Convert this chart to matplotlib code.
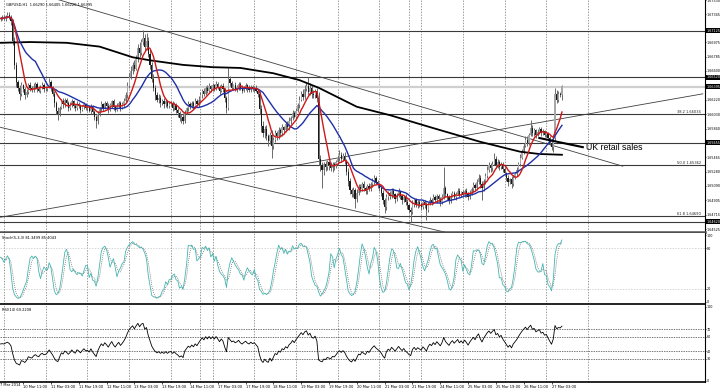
import matplotlib
matplotlib.use("Agg")
import matplotlib.pyplot as plt
import numpy as np
import pandas as pd

# GBPUSD H1, bars from 7 Mar 22:00 to 27 Mar 09:00 (2014)
# prices kept as pips: 6628 -> 1.6628
first_open = 6728
close_pips = [
    6729, 6730,  # 7 Mar
    6729, 6732, 6734, 6731, 6725, 6700, 6668, 6645, 6638, 6630, 6641, 6636, 6628, 6633, 6642, 6638, 6635, 6640, 6643, 6637, 6634, 6639, 6641, 6636,  # 10 Mar
    6637, 6640, 6645, 6638, 6630, 6618, 6608, 6604, 6612, 6620, 6616, 6622, 6618, 6612, 6615, 6620, 6614, 6611, 6617, 6614, 6609, 6613, 6616, 6611,  # 11 Mar
    6612, 6608, 6613, 6606, 6600, 6594, 6603, 6610, 6616, 6612, 6618, 6614, 6609, 6615, 6620, 6613, 6609, 6614, 6618, 6612, 6616, 6621, 6628, 6640,  # 12 Mar
    6652, 6660, 6668, 6663, 6676, 6690, 6684, 6698, 6703, 6692, 6700, 6682, 6668, 6650, 6638, 6628, 6622, 6625, 6618, 6621, 6616, 6620, 6614, 6617,  # 13 Mar
    6618, 6612, 6615, 6609, 6605, 6598, 6600, 6594, 6606, 6611, 6616, 6613, 6618, 6614, 6620, 6616, 6622, 6628, 6634, 6630, 6638, 6634, 6640, 6636,  # 14 Mar
    6641, 6637, 6643, 6639, 6634, 6640, 6636, 6624, 6612, 6650, 6644, 6638, 6641, 6636, 6639, 6643, 6637, 6634, 6638, 6641, 6637, 6635, 6639, 6636,  # 17 Mar
    6638, 6634, 6630, 6610, 6588, 6578, 6584, 6574, 6568, 6576, 6562, 6570, 6578, 6574, 6582, 6578, 6586, 6583, 6590, 6586, 6594, 6598, 6605, 6600,  # 18 Mar
    6608, 6615, 6622, 6630, 6626, 6636, 6640, 6632, 6638, 6630, 6628, 6634, 6624, 6545, 6536, 6530, 6538, 6534, 6540, 6536, 6532, 6538, 6535, 6540,  # 19 Mar
    6546, 6550, 6544, 6548, 6542, 6528, 6515, 6504, 6498, 6504, 6492, 6500, 6508, 6505, 6512, 6506, 6502, 6509, 6505, 6511, 6516, 6520, 6514, 6510,  # 20 Mar
    6506, 6500, 6490, 6482, 6494, 6500, 6496, 6503, 6498, 6492, 6497, 6502, 6496, 6491, 6495, 6488, 6484, 6478, 6475, 6486, 6490, 6484, 6488, 6485,  # 21 Mar
    6482, 6488, 6484, 6478, 6486, 6491, 6488, 6494, 6490, 6496, 6492, 6488, 6494, 6506, 6498, 6494, 6490, 6496, 6500, 6495, 6499, 6503, 6497, 6501,  # 24 Mar
    6497, 6503, 6499, 6494, 6500, 6505, 6510, 6506, 6514, 6520, 6512, 6506, 6515, 6522, 6530, 6536, 6532, 6538, 6545, 6536, 6540, 6534, 6538, 6531,  # 25 Mar
    6526, 6520, 6514, 6518, 6512, 6520, 6525, 6530, 6538, 6546, 6554, 6562, 6570, 6566, 6576, 6585, 6578, 6582, 6576, 6580, 6584, 6578, 6581, 6576,  # 26 Mar
    6578, 6572, 6566, 6560, 6572, 6630, 6622, 6630, 6629, 6640,  # 27 Mar
]
# wick length above / below the candle body, pips
wick_up = [
    2, 3,
    3, 2, 3, 4, 2, 3, 5, 4, 3, 4, 5, 2, 3, 4, 2, 3, 2, 4, 3, 2, 3, 2, 4, 3,
    3, 2, 6, 3, 2, 4, 3, 5, 2, 3, 4, 2, 3, 2, 4, 3, 2, 3, 4, 2, 3, 2, 3, 2,
    2, 3, 4, 2, 3, 2, 4, 3, 5, 2, 3, 2, 4, 3, 2, 3, 2, 4, 3, 2, 3, 4, 5, 6,
    5, 6, 4, 7, 5, 6, 8, 4, 11, 6, 10, 5, 7, 4, 6, 3, 4, 5, 3, 2, 4, 3, 2, 3,
    3, 2, 4, 3, 2, 3, 4, 5, 3, 2, 4, 3, 2, 3, 4, 3, 5, 4, 3, 4, 2, 3, 4, 2,
    3, 2, 4, 3, 2, 3, 4, 2, 3, 14, 4, 3, 2, 4, 3, 2, 3, 4, 2, 3, 2, 4, 3, 2,
    2, 3, 2, 4, 5, 6, 4, 5, 3, 4, 6, 3, 4, 3, 5, 3, 4, 2, 3, 4, 5, 3, 4, 3,
    4, 3, 5, 4, 6, 5, 4, 12, 6, 4, 5, 3, 4, 8, 5, 4, 3, 4, 3, 2, 4, 3, 2, 3,
    4, 6, 3, 4, 5, 3, 4, 5, 3, 4, 3, 5, 4, 3, 2, 4, 3, 2, 4, 3, 4, 3, 2, 3,
    3, 2, 4, 3, 5, 3, 2, 4, 3, 2, 3, 4, 2, 3, 2, 3, 4, 2, 3, 4, 2, 3, 2, 3,
    3, 2, 3, 4, 2, 3, 2, 4, 3, 2, 3, 2, 4, 28, 3, 2, 3, 4, 2, 3, 2, 4, 3, 2,
    3, 2, 3, 2, 4, 3, 4, 3, 4, 5, 3, 4, 3, 4, 5, 4, 3, 4, 7, 3, 4, 3, 2, 3,
    3, 2, 3, 2, 4, 3, 2, 4, 3, 5, 4, 3, 5, 4, 3, 11, 4, 3, 2, 4, 3, 2, 3, 2,
    3, 2, 3, 2, 4, 8, 5, 4, 3, 1,
]
wick_dn = [
    3, 2,
    2, 3, 2, 3, 4, 6, 5, 6, 4, 8, 3, 4, 5, 2, 3, 4, 3, 2, 3, 4, 2, 3, 2, 3,
    2, 3, 2, 4, 3, 5, 4, 8, 3, 2, 4, 3, 2, 4, 3, 2, 3, 4, 2, 3, 4, 2, 3, 2,
    3, 2, 4, 3, 4, 9, 3, 2, 3, 4, 2, 3, 4, 2, 3, 4, 3, 2, 3, 4, 2, 3, 2, 3,
    2, 3, 4, 3, 2, 4, 5, 3, 4, 6, 5, 4, 6, 5, 4, 6, 3, 4, 5, 3, 4, 3, 2, 3,
    3, 4, 3, 4, 5, 4, 6, 3, 2, 3, 4, 3, 2, 4, 3, 2, 3, 2, 4, 3, 2, 3, 2, 3,
    2, 3, 2, 3, 4, 2, 3, 5, 7, 3, 4, 2, 3, 2, 3, 4, 2, 3, 2, 3, 4, 2, 3, 2,
    3, 2, 4, 6, 8, 5, 6, 5, 7, 4, 16, 4, 3, 5, 3, 4, 3, 4, 3, 2, 3, 4, 3, 2,
    3, 2, 3, 2, 4, 3, 2, 4, 3, 5, 4, 3, 5, 9, 7, 24, 6, 5, 4, 6, 3, 4, 5, 3,
    3, 4, 3, 2, 4, 5, 6, 5, 4, 3, 12, 4, 3, 4, 3, 4, 3, 4, 3, 2, 3, 4, 3, 4,
    3, 4, 5, 8, 4, 3, 4, 3, 4, 5, 3, 2, 4, 5, 3, 4, 5, 4, 13, 3, 4, 3, 4, 3,
    4, 3, 4, 14, 3, 2, 4, 3, 2, 3, 4, 5, 3, 2, 4, 3, 4, 3, 2, 3, 4, 2, 3, 2,
    3, 2, 4, 3, 2, 3, 4, 3, 2, 3, 5, 16, 4, 3, 2, 3, 4, 3, 2, 4, 3, 4, 3, 4,
    3, 4, 5, 3, 6, 3, 2, 3, 2, 3, 2, 3, 2, 4, 3, 2, 4, 3, 4, 2, 3, 4, 2, 3,
    3, 4, 3, 4, 6, 4, 4, 3, 3, 7,
]

# slow moving average at a few bars
ma_long_bar = [0, 17, 38, 57, 76, 86, 105, 122, 138, 157, 172, 183, 205, 224, 249, 276, 299, 310, 323]
ma_long_pips = [6697, 6698, 6697, 6692, 6678, 6674, 6668, 6665, 6664, 6657, 6648, 6638, 6613, 6602, 6585, 6567, 6554, 6551, 6550]

# user drawn objects
h_levels = [1.67125, 1.66520, 1.65655, 1.64620]
fib_names = ["38.2", "50.0", "61.8"]
fib_levels = [1.66034, 1.65362, 1.64690]
bid_price = 1.66395
trend_bar0 = [0, 0, 0]
trend_price0 = [1.6776, 1.6586, 1.6468]
trend_bar1 = [358, 262, 404]
trend_price1 = [1.6535, 1.6445, 1.6630]
note_bar = [310, 335]
note_price = [1.6572, 1.6560]
note_text = "UK retail sales"

price_ticks = [1.67530, 1.67345, 1.66975, 1.66785, 1.66600, 1.66220, 1.66030, 1.65840,
               1.65465, 1.65280, 1.65090, 1.64905, 1.64715, 1.64525]
time_labels = ["10 Mar 11:00", "11 Mar 03:00", "11 Mar 19:00", "12 Mar 11:00", "13 Mar 03:00",
               "13 Mar 19:00", "14 Mar 11:00", "17 Mar 03:00", "17 Mar 19:00", "18 Mar 11:00",
               "19 Mar 03:00", "19 Mar 19:00", "20 Mar 11:00", "21 Mar 03:00", "21 Mar 19:00",
               "24 Mar 11:00", "25 Mar 03:00", "25 Mar 19:00", "26 Mar 11:00", "27 Mar 03:00"]
day_start_bar = [2, 26, 50, 74, 98, 115, 122, 146, 170, 194, 218, 235, 242, 266, 290, 314, 338]

# ---- derived series
close = 1 + np.array(close_pips) / 1e4
opens = np.r_[1 + first_open / 1e4, close[:-1]]
body_top = np.maximum(opens, close)
body_bot = np.minimum(opens, close)
high = body_top + np.array(wick_up) / 1e4
low = body_bot - np.array(wick_dn) / 1e4
idx = np.arange(len(close))

cs = pd.Series(close)
ma_fast = cs.rolling(8, min_periods=1).mean()
ma_mid = cs.rolling(21, min_periods=1).mean()

hh = pd.Series(high).rolling(5, min_periods=1).max()
ll = pd.Series(low).rolling(5, min_periods=1).min()
st_main = 100 * (cs - ll).rolling(3, min_periods=1).sum() / (hh - ll).rolling(3, min_periods=1).sum()
st_sig = st_main.rolling(3, min_periods=1).mean()

# Wilder RSI(14), warm-up seeded with equal gain/loss so it starts near 50
delta = np.diff(close, prepend=close[0])
seed = np.abs(delta[1:15]).mean() / 2
ag, al = seed, seed
rsi = []
for d in delta:
    ag = (ag * 13 + max(d, 0)) / 14
    al = (al * 13 + max(-d, 0)) / 14
    rsi.append(100 - 100 / (1 + ag / al))

# ---- figure
W, H = 720, 390
fig = plt.figure(figsize=(7.2, 3.9), dpi=100)
axw = 705 / W
ax_p = fig.add_axes([0, 1 - 232 / H, axw, 232 / H])
ax_s = fig.add_axes([0, 1 - 304 / H, axw, 71 / H])
ax_r = fig.add_axes([0, 1 - 382 / H, axw, 77 / H])
xlim = (-0.3, 405.3)
small = 2.6
axis_font = ["DejaVu Sans Condensed", "DejaVu Sans"]

for ax in (ax_p, ax_s, ax_r):
    ax.set_xlim(*xlim)
    for s in ("left", "top"):
        ax.spines[s].set_visible(False)
    ax.spines["right"].set_linewidth(0.8)
    ax.spines["bottom"].set_linewidth(1.2)
    ax.yaxis.tick_right()
    ax.tick_params(axis="y", labelsize=2.4, length=1.0, width=0.5, pad=0.5)
    ax.tick_params(axis="x", length=0)
    for d in day_start_bar:
        ax.axvline(d, color="#707070", lw=0.5, ls=(0, (2, 2)), zorder=0)

ax_p.spines["bottom"].set_color("#505050")
ax_p.spines["bottom"].set_linewidth(1.8)
ax_p.set_xticks([])
ax_s.set_xticks([])

# price panel
ax_p.set_ylim(1.64486, 1.67532)
ax_p.set_yticks(price_ticks)
ax_p.set_yticklabels([f"{t:.5f}" for t in price_ticks], family=axis_font)
ax_p.axhline(bid_price, color="#cfcfcf", lw=1.6, zorder=1)
for lv in h_levels:
    ax_p.axhline(lv, color="#3a3a3a", lw=0.8, zorder=1)
for name, lv in zip(fib_names, fib_levels):
    ax_p.axhline(lv, color="#3a3a3a", lw=0.8, zorder=1)
    ax_p.text(403, lv + 0.00004, f"{name} {lv:.5f}", fontsize=small, ha="right", va="bottom", color="#202020")
for b0, p0, b1, p1 in zip(trend_bar0, trend_price0, trend_bar1, trend_price1):
    ax_p.plot([b0, b1], [p0, p1], color="#404040", lw=0.6, zorder=2)

bull = close >= opens
ax_p.vlines(idx, low, high, color="#6a6a6a", lw=0.7, zorder=3)
ax_p.bar(idx, np.maximum(body_top - body_bot, 0.00004), bottom=body_bot, width=0.7,
         color=np.where(bull, "#a8a8a8", "#1a1a1a"), lw=0, zorder=3)

ax_p.plot(ma_long_bar, 1 + np.array(ma_long_pips) / 1e4, color="black", lw=1.3, zorder=4)
ax_p.plot(idx, ma_mid, color="#1f2fa8", lw=1.0, zorder=5)
ax_p.plot(idx, ma_fast, color="#d01818", lw=1.0, zorder=6)

ax_p.plot(note_bar, note_price, color="black", lw=1.5, zorder=6)
ax_p.text(note_bar[1] + 2, note_price[1], note_text, fontsize=6.3, va="center", ha="left",
          family="Liberation Sans")

for lv in h_levels + [bid_price]:
    ax_p.text(1.002, lv, f"{lv:.5f}", transform=ax_p.get_yaxis_transform(), fontsize=2.4,
              family=axis_font, color="white", va="center", ha="left", clip_on=False,
              bbox=dict(boxstyle="square,pad=0.15", fc="black", ec="black", lw=0))

ax_p.text(3, 1.67532 - 0.0001313 * 3, "GBPUSD,H1  1.66290 1.66405 1.66220 1.66395",
          fontsize=small, va="top", ha="left")

# stochastic
ax_s.set_ylim(-3, 103)
ax_s.set_yticks([100, 80, 20, 0])
ax_s.set_yticklabels(["100", "80", "20", "0"])
for lv in (80, 20):
    ax_s.axhline(lv, color="#c4c4c4", lw=0.5, ls=(0, (2, 2)), zorder=0)
ax_s.plot(idx, st_main, color="#45b5b0", lw=0.6, zorder=3)
ax_s.plot(idx, st_sig, color="#707070", lw=0.5, ls=(0, (1.5, 1.5)), zorder=2)
ax_s.text(1, 99, "Stoch(5,3,3) 81.3499 85.4043", fontsize=small, va="top", ha="left")

# rsi
ax_r.set_ylim(-1.4, 102.7)
ax_r.set_yticks([100, 70, 60, 40, 30, 0])
ax_r.set_yticklabels(["100", "70", "60", "40", "30", "0"])
for lv in (70, 60, 40, 30):
    ax_r.axhline(lv, color="#404040", lw=0.5, ls=(0, (2, 1.5)), zorder=0)
ax_r.plot(idx, rsi, color="black", lw=0.6, zorder=3)
ax_r.text(1, 99, "RSI(14) 69.2208", fontsize=small, va="top", ha="left")

label_bar = list(range(13, 13 + 16 * len(time_labels), 16))
ax_r.set_xticks(label_bar)
ax_r.set_xticklabels(time_labels, fontsize=small, ha="left")
ax_r.tick_params(axis="x", length=1.2, width=0.5, pad=0.8)
fig.text(0.5 / W, 1 - 383.5 / H, "7 Mar 2014", fontsize=small, va="top", ha="left")

fig.savefig("out.png", dpi=100)
